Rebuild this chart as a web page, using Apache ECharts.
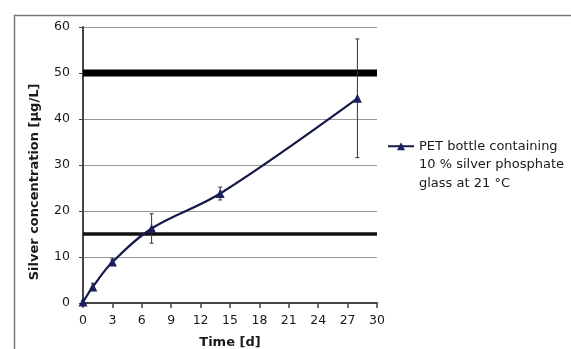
<!DOCTYPE html>
<html><head><meta charset="utf-8">
<script src="https://cdn.jsdelivr.net/npm/echarts@6/dist/echarts.min.js"></script>
<style>html,body{margin:0;padding:0;background:#fff}#c{width:571px;height:349px}</style>
</head><body><div id="c"></div>
<script>
const days = [0, 1, 3, 7, 14, 28];
const silver = [0.2, 3.5, 8.9, 16.2, 23.8, 44.5];
const errors = [0.4, 0.8, 0.7, 3.2, 1.4, 12.9];
const xTicks = [0, 3, 6, 9, 12, 15, 18, 21, 24, 27, 30];
const yTicks = [0, 10, 20, 30, 40, 50, 60];
const limits = [50, 15];
const seriesName = 'PET bottle containing\n10 % silver phosphate\nglass at 21 °C';

const chart = echarts.init(document.getElementById('c'), null, {renderer: 'canvas'});
const font = '"DejaVu Sans", "Liberation Sans", Arial, sans-serif';
chart.setOption({
  animation: false,
  textStyle: {fontFamily: font},
  grid: {left: 83, right: 194, top: 27, bottom: 46, containLabel: false, outerBoundsMode: 'none'},
  graphic: [{type: 'rect', left: 12, top: 13, shape: {width: 600, height: 400}, style: {fill: 'none', stroke: '#777', lineWidth: 1.5}, silent: true, z: -1}],
  legend: {
    left: 387, top: 100, orient: 'vertical', padding: 0,
    itemWidth: 26, itemHeight: 10,
    data: [seriesName],
    formatter: function (name) { return ' \n \n' + name; },
    textStyle: {fontFamily: font, fontSize: 13, color: '#1a1a1a', lineHeight: 18.5}
  },
  xAxis: {
    type: 'value', min: 0, max: 30, interval: 3,
    name: 'Time [d]', nameLocation: 'middle', nameGap: 33,
    nameTextStyle: {fontWeight: 'bold', fontSize: 13, color: '#1a1a1a'},
    axisLine: {lineStyle: {color: '#444', width: 2}},
    axisTick: {show: true, length: 5, lineStyle: {color: '#444', width: 1.5}},
    axisLabel: {fontSize: 12.5, color: '#1a1a1a', margin: 11},
    splitLine: {show: false}
  },
  yAxis: {
    type: 'value', min: 0, max: 60, interval: 10,
    name: 'Silver concentration [µg/L]', nameLocation: 'middle', nameGap: 42,
    nameTextStyle: {fontWeight: 'bold', fontSize: 13, color: '#1a1a1a', padding: [0, 34, 0, 0]},
    axisLine: {show: true, lineStyle: {color: '#444', width: 2}},
    axisTick: {show: true, length: 4, inside: false, lineStyle: {color: '#444'}},
    axisLabel: {fontSize: 12.5, color: '#1a1a1a', margin: 13},
    splitLine: {show: true, lineStyle: {color: '#999', width: 1}}
  },
  series: [
    {
      type: 'line', name: 'limit50', data: [[0, limits[0]], [30, limits[0]]],
      symbol: 'none', lineStyle: {color: '#000', width: 7}, silent: true, z: 1
    },
    {
      type: 'line', name: 'limit15', data: [[0, limits[1]], [30, limits[1]]],
      symbol: 'none', lineStyle: {color: '#111', width: 3.5}, silent: true, z: 1
    },
    {
      type: 'custom', name: 'err',
      data: days.map((d, i) => [d, silver[i] - errors[i], silver[i] + errors[i]]),
      renderItem: function (params, api) {
        const lo = api.coord([api.value(0), api.value(1)]);
        const hi = api.coord([api.value(0), api.value(2)]);
        const w = 4;
        const st = {stroke: '#333', lineWidth: 1};
        return {type: 'group', children: [
          {type: 'line', shape: {x1: lo[0], y1: lo[1], x2: hi[0], y2: hi[1]}, style: st},
          {type: 'line', shape: {x1: lo[0] - w/2, y1: lo[1], x2: lo[0] + w/2, y2: lo[1]}, style: st},
          {type: 'line', shape: {x1: hi[0] - w/2, y1: hi[1], x2: hi[0] + w/2, y2: hi[1]}, style: st}
        ]};
      },
      z: 3
    },
    {
      type: 'line', name: seriesName,
      data: days.map((d, i) => [d, silver[i]]),
      smooth: 0.35,
      symbol: 'triangle', symbolSize: 9,
      itemStyle: {color: '#1b1f5e'},
      lineStyle: {color: '#14184a', width: 2.2},
      z: 4
    }
  ]
});
</script></body></html>
